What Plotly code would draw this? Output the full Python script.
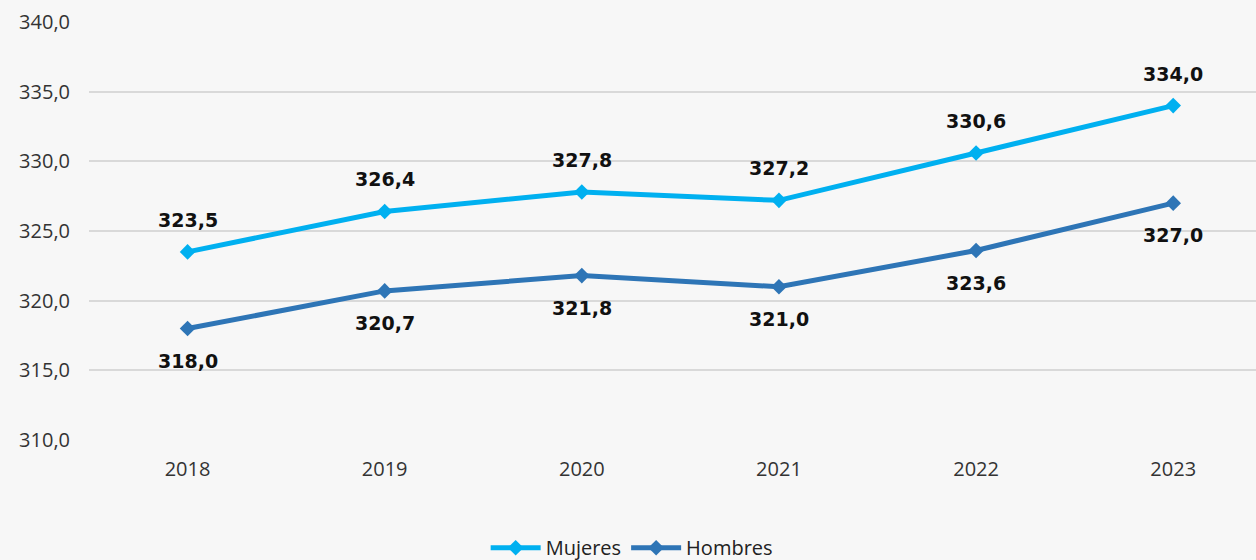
import plotly.graph_objects as go

years = ["2018", "2019", "2020", "2021", "2022", "2023"]
mujeres = [323.5, 326.4, 327.8, 327.2, 330.6, 334.0]
hombres = [318.0, 320.7, 321.8, 321.0, 323.6, 327.0]
y_ticks = [310, 315, 320, 325, 330, 335, 340]

c_muj = "#00b0f0"
c_hom = "#2e75b6"

def fmt(v):
    return f"{v:.1f}".replace(".", ",")

fig = go.Figure()
fig.add_trace(go.Scatter(x=list(range(len(years))), y=mujeres, name="Mujeres",
                         mode="lines+markers",
                         line=dict(color=c_muj, width=5),
                         marker=dict(symbol="diamond", size=12, color=c_muj)))
fig.add_trace(go.Scatter(x=list(range(len(years))), y=hombres, name="Hombres",
                         mode="lines+markers",
                         line=dict(color=c_hom, width=5),
                         marker=dict(symbol="diamond", size=12, color=c_hom)))

lab_font = dict(family="DejaVu Sans", size=19, color="#111111", weight="bold")
ann = []
for i, v in enumerate(mujeres):
    ann.append(dict(x=i, y=v, text=fmt(v), showarrow=False, yshift=32, font=lab_font))
for i, v in enumerate(hombres):
    ann.append(dict(x=i, y=v, text=fmt(v), showarrow=False, yshift=-32, font=lab_font))

fig.update_layout(
    width=1256, height=560,
    margin=dict(l=89, r=0, t=22, b=120, autoexpand=False),
    paper_bgcolor="#f7f7f7", plot_bgcolor="#f7f7f7",
    font=dict(family="Open Sans", size=20, color="#333333"),
    annotations=ann,
    showlegend=True,
    legend=dict(orientation="h", x=0.465, xanchor="center",
                yref="container", y=0.022, yanchor="middle",
                font=dict(size=20, color="#222222"), bgcolor="rgba(0,0,0,0)",
                itemwidth=50),
    xaxis=dict(range=[-0.5, 5.42], tickmode="array", tickvals=list(range(len(years))),
               ticktext=years, showgrid=False, zeroline=False, showline=False,
               ticks="", ticklabelstandoff=15),
    yaxis=dict(range=[310, 340], tickmode="array", tickvals=y_ticks,
               ticktext=[fmt(t) for t in y_ticks], showgrid=True,
               gridcolor="#d9d9d9", gridwidth=2, zeroline=False, showline=False,
               ticks="", ticklabelstandoff=18),
)

fig.write_html("out.html", config={"displayModeBar": False},
               post_script="document.body.style.margin='0';document.body.style.background='#f7f7f7';document.body.style.overflow='hidden';")
